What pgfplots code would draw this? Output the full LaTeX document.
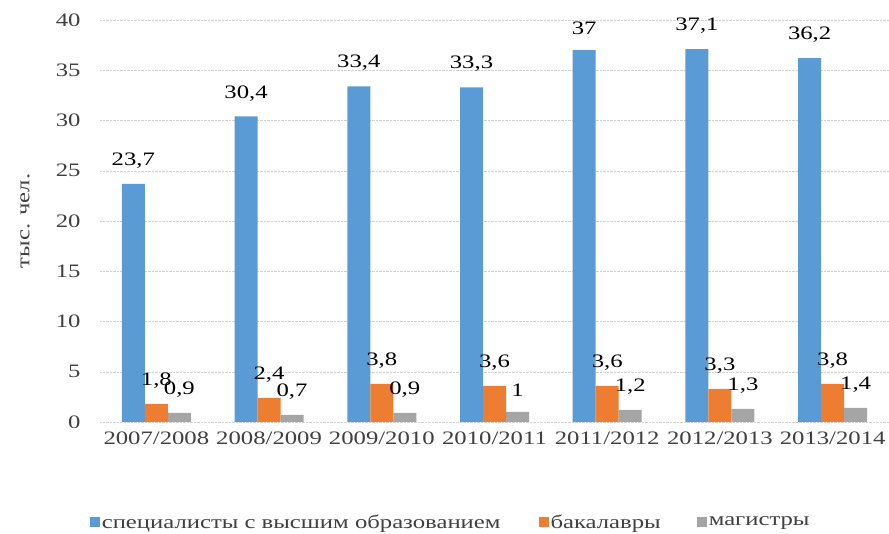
\documentclass[border=0pt]{standalone}
\usepackage{fontspec}
\setmainfont{Liberation Serif}[FakeStretch=1.3]
\usepackage{pgfplots}
\pgfplotsset{compat=1.18}
\definecolor{cblue}{HTML}{5B9BD5}
\definecolor{corange}{HTML}{ED7D31}
\definecolor{cgray}{HTML}{A5A5A5}
\definecolor{ctext}{HTML}{404040}
\begin{document}
\begin{tikzpicture}[x=1pt,y=1pt]
\begin{axis}[
  at={(100pt,112pt)}, anchor=south west,
  scale only axis, width=789pt, height=402pt,
  ybar=0pt, bar width=23pt,
  xmin=-0.5, xmax=6.5, ymin=0, ymax=40,
  ytick={0,5,...,40},
  xtick={0,1,2,3,4,5,6},
  xticklabels={2007/2008,2008/2009,2009/2010,2010/2011,2011/2012,2012/2013,2013/2014},
  axis line style={draw=none},
  tick style={draw=none},
  ymajorgrids, grid style={gray!35, densely dotted},
  font=\fontsize{19}{22}\selectfont,
  tick label style={text=ctext},
  yticklabel style={xshift=-16pt},
  xticklabel style={yshift=-2pt},
  /pgf/number format/assume math mode=true,
  ylabel={тыс. чел.},
  ylabel style={at={(axis description cs:-0.095,0.5)}, anchor=center, text=ctext},
  nodes near coords,
  nodes near coords style={text=black, yshift=12pt, font=\fontsize{19}{22}\selectfont,
    /pgf/number format/use comma, /pgf/number format/fixed, /pgf/number format/precision=1},
  clip=false,
  legend columns=-1,
  legend style={draw=none, at={(axis description cs:-0.017,-0.249)}, anchor=west,
    font=\fontsize{19}{22}\selectfont, text=ctext,
    /tikz/column 2/.style={column sep=36pt},
    /tikz/column 4/.style={column sep=34pt}},
  legend image code/.code={\fill[#1] (0pt,-5pt) rectangle (10pt,5pt);},
]
\addplot[fill=cblue, draw=none] coordinates {(0,23.7) (1,30.4) (2,33.4) (3,33.3) (4,37) (5,37.1) (6,36.2)};
\addplot[fill=corange, draw=none] coordinates {(0,1.8) (1,2.4) (2,3.8) (3,3.6) (4,3.6) (5,3.3) (6,3.8)};
\addplot[fill=cgray, draw=none] coordinates {(0,0.9) (1,0.7) (2,0.9) (3,1) (4,1.2) (5,1.3) (6,1.4)};
\legend{специалисты с высшим образованием, бакалавры, магистры}
\end{axis}
\pgfresetboundingbox
\path (0,0) rectangle (889,534);
\end{tikzpicture}
\end{document}
